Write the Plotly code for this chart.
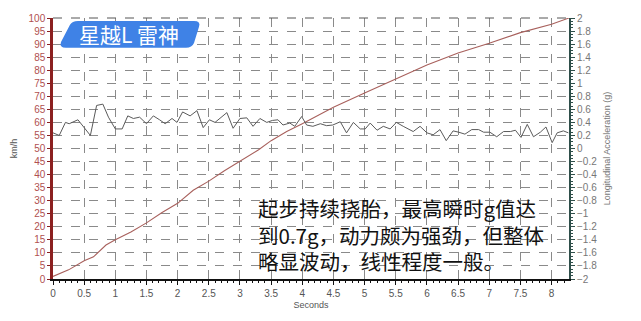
import plotly.graph_objects as go

# Speed (km/h) vs time (s)
speed_t = [0, 0.25, 0.5, 0.65, 0.85, 1.0, 1.25, 1.5, 1.75, 2.0, 2.25, 2.5, 2.75, 3.0, 3.3, 3.5,
           3.75, 4.0, 4.5, 5.0, 5.5, 6.0, 6.5, 7.0, 7.5, 8.0, 8.28]
speed_v = [1, 3.5, 7, 8.5, 13, 15, 18, 21.5, 25.5, 29, 34, 37.5, 41.5, 45, 49.5, 53,
           56.5, 59.5, 65.8, 71.3, 76.8, 82, 86.6, 90.3, 94.4, 97.6, 100]

# Longitudinal acceleration (g) vs time (s)
acc_t = [0, 0.1, 0.2, 0.26, 0.4, 0.5, 0.6, 0.7, 0.8, 0.89, 1.0, 1.11, 1.2, 1.29, 1.39, 1.5,
         1.61, 1.71, 1.8, 1.91, 1.99, 2.08, 2.2, 2.31, 2.41, 2.51, 2.6, 2.79, 2.89, 3.0,
         3.11, 3.21, 3.32, 3.43, 3.52, 3.61, 3.69, 3.8, 3.88, 3.99, 4.07, 4.17, 4.29, 4.39,
         4.49, 4.61, 4.71, 4.82, 4.93, 5.01, 5.09, 5.2, 5.3, 5.41, 5.51, 5.62, 5.78, 5.89,
         6.0, 6.1, 6.21, 6.31, 6.42, 6.51, 6.61, 6.72, 6.83, 6.91, 7.01, 7.12, 7.23, 7.34,
         7.42, 7.51, 7.61, 7.71, 7.82, 7.91, 8.01, 8.09, 8.19, 8.27]
acc_g = [0.24, 0.2, 0.4, 0.38, 0.44, 0.32, 0.2, 0.66, 0.68, 0.48, 0.3, 0.3, 0.5, 0.46, 0.48, 0.38,
         0.5, 0.44, 0.38, 0.46, 0.4, 0.56, 0.5, 0.58, 0.32, 0.44, 0.40, 0.55, 0.31, 0.46,
         0.47, 0.34, 0.46, 0.40, 0.43, 0.44, 0.36, 0.39, 0.34, 0.49, 0.36, 0.34, 0.38, 0.35,
         0.36, 0.41, 0.24, 0.40, 0.30, 0.30, 0.39, 0.28, 0.34, 0.30, 0.40, 0.34, 0.26, 0.34,
         0.24, 0.21, 0.29, 0.12, 0.27, 0.25, 0.22, 0.29, 0.29, 0.25, 0.25, 0.18, 0.26, 0.26,
         0.28, 0.17, 0.37, 0.18, 0.25, 0.33, 0.09, 0.24, 0.27, 0.24]

title_label = "星越L 雷神"
note_lines = ["起步持续挠胎，最高瞬时g值达", "到0.7g，动力颇为强劲，但整体", "略显波动，线性程度一般。"]

W, H = 641, 321
L, R, T, B = 53, 72, 12, 37
pw, ph = W - L - R, H - T - B


def px(x):
    return (x - L) / pw


def py(y):
    return (H - B - y) / ph


fig = go.Figure()
fig.add_trace(go.Scatter(x=acc_t, y=acc_g, mode="lines", yaxis="y2",
                         line=dict(color="#5a5a5a", width=1), showlegend=False))
fig.add_trace(go.Scatter(x=speed_t, y=speed_v, mode="lines",
                         line=dict(color="#a8605c", width=1.1), showlegend=False))

tickfont = dict(family="Liberation Sans, Arial", size=10)
fig.update_layout(
    width=W, height=H, margin=dict(l=L, r=R, t=T, b=B),
    paper_bgcolor="white", plot_bgcolor="white",
    xaxis=dict(range=[0, 8.28], dtick=0.5, tick0=0, showgrid=True, gridcolor="#8a8a8a",
               griddash="dash", gridwidth=1, zeroline=False, showline=True, linecolor="#111",
               linewidth=2, ticks="outside", ticklen=4, tickcolor="#111",
               minor=dict(dtick=0.1, ticks="outside", ticklen=2, tickcolor="#111", showgrid=False),
               tickfont=dict(color="#555", **tickfont),
               title=dict(text="Seconds", font=dict(color="#555", size=9, family="Liberation Sans, Arial"), standoff=4)),
    yaxis=dict(range=[0, 100], dtick=5, showgrid=True, gridcolor="#8a8a8a", griddash="dash",
               zeroline=False, showline=True, linecolor="#8b2020", linewidth=2.5,
               ticks="outside", ticklen=3, tickcolor="#8b2020",
               tickfont=dict(color="#b05050", **tickfont),
               title=dict(text="km/h", font=dict(color="#555", size=9, family="Liberation Sans, Arial"), standoff=10)),
    yaxis2=dict(range=[-2, 2], dtick=0.2, overlaying="y", side="right", showgrid=False,
                zeroline=False, showline=True, linecolor="#2f4f4a", linewidth=2,
                ticks="outside", ticklen=4, tickcolor="#2f4f4a",
                minor=dict(dtick=0.05, ticks="outside", ticklen=2, tickcolor="#2f4f4a"),
                tickfont=dict(color="#777", **tickfont),
                title=dict(text="Longitudinal Acceleration (g)", font=dict(color="#777", size=9, family="Liberation Sans, Arial"), standoff=8)),
)

# top border dashed line
fig.add_shape(type="line", xref="paper", yref="paper", x0=0, x1=1, y0=1, y1=1,
              line=dict(color="#555", width=1, dash="dash"))

# blue label box (rounded parallelogram)
path = (f"M {px(78)},{py(15)} L {px(194)},{py(15)} Q {px(201)},{py(15)} {px(199)},{py(21)} "
        f"L {px(194)},{py(38)} Q {px(192)},{py(43)} {px(186)},{py(43)} "
        f"L {px(66)},{py(43)} Q {px(59)},{py(43)} {px(61)},{py(37)} "
        f"L {px(70)},{py(19)} Q {px(72)},{py(15)} {px(78)},{py(15)} Z")
fig.add_shape(type="path", xref="paper", yref="paper", path=path,
              fillcolor="#3f82e6", line=dict(width=0))
fig.add_annotation(xref="paper", yref="paper", x=px(129), y=py(29), text=title_label,
                   showarrow=False, font=dict(color="white", size=21, family="Noto Sans CJK SC"),
                   xanchor="center", yanchor="middle")

fig.add_annotation(xref="paper", yref="paper", x=px(256), y=py(238), text="<br>".join(note_lines),
                   showarrow=False, xanchor="left", yanchor="middle", align="left",
                   font=dict(color="#111", size=20.5, family="Noto Sans CJK SC"))

fig.write_html("out.html")
